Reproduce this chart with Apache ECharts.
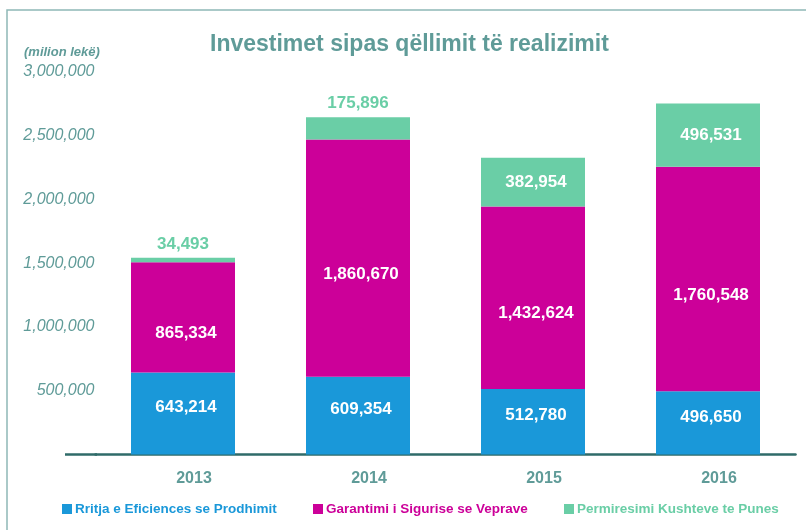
<!DOCTYPE html>
<html>
<head>
<meta charset="utf-8">
<script src="https://cdn.jsdelivr.net/npm/echarts@6/dist/echarts.min.js"></script>
<style>
  html, body { margin: 0; padding: 0; background: #fff; }
  #chart { width: 806px; height: 530px; }
</style>
</head>
<body>
<div id="chart"></div>
<script>
const years = ['2013', '2014', '2015', '2016'];
const seriesNames = [
  'Rritja e Eficiences se Prodhimit',
  'Garantimi i Sigurise se Veprave',
  'Permiresimi Kushteve te Punes'
];
const efficiency = [643214, 609354, 512780, 496650];
const safety = [865334, 1860670, 1432624, 1760548];
const conditions = [34493, 175896, 382954, 496531];

const colors = ['#1a98d9', '#cc0099', '#6acea6'];
const axisGray = '#5f9b98';
const fmt = v => v.toLocaleString('en-US');
const legendLeft = [62, 313, 564];

const chart = echarts.init(document.getElementById('chart'));

const labelBase = {
  show: true,
  color: '#fff',
  fontFamily: 'Liberation Sans, Arial, sans-serif',
  fontWeight: 'bold',
  fontSize: 17,
  formatter: p => fmt(p.value)
};

// small green segments get their label above the bar
const conditionsData = conditions.map(v => v < 200000
  ? { value: v, label: { position: 'top', color: colors[2], offset: [0, 0] } }
  : v);

const option = {
  animation: false,
  color: colors,
  title: [
    {
      text: 'Investimet sipas qëllimit të realizimit',
      left: 205,
      top: 28,
      textStyle: {
        color: axisGray,
        fontFamily: 'Liberation Sans, Arial, sans-serif',
        fontWeight: 'bold',
        fontSize: 23
      }
    },
    {
      text: '(milion lekë)',
      left: 19,
      top: 41,
      textStyle: {
        color: axisGray,
        fontFamily: 'Liberation Sans, Arial, sans-serif',
        fontWeight: 'bold',
        fontStyle: 'italic',
        fontSize: 13
      }
    }
  ],
  graphic: [
    {
      type: 'rect',
      shape: { x: 7, y: 10, width: 900, height: 700 },
      style: { fill: 'none', stroke: '#8fb8b7', lineWidth: 1.5 },
      silent: true
    },
    {
      type: 'line',
      shape: { x1: 65, y1: 454.5, x2: 97, y2: 454.5 },
      style: { stroke: '#2f6b69', lineWidth: 2.5 },
      silent: true
    }
  ],
  legend: seriesNames.map((n, i) => ({
    data: [n],
    left: legendLeft[i],
    top: 502,
    padding: 0,
    itemWidth: 10,
    itemHeight: 10,
    itemGap: 0,
    icon: 'rect',
    textStyle: {
      color: colors[i],
      fontFamily: 'Liberation Sans, Arial, sans-serif',
      fontWeight: 'bold',
      fontSize: 13.5,
      padding: [0, 0, 0, -2]
    }
  })),
  grid: {
    left: 95.5,
    right: 10.5,
    top: 72,
    bottom: 75.5
  },
  xAxis: {
    type: 'category',
    data: years,
    axisLine: { lineStyle: { color: '#2f6b69', width: 2.5 } },
    axisTick: { show: false },
    axisLabel: {
      color: axisGray,
      fontFamily: 'Liberation Sans, Arial, sans-serif',
      fontWeight: 'bold',
      fontSize: 16,
      margin: 16,
      padding: [0, 0, 0, 22]
    }
  },
  yAxis: {
    type: 'value',
    min: 0,
    max: 3000000,
    interval: 500000,
    splitLine: { show: false },
    axisLine: { show: false },
    axisTick: { show: false },
    axisLabel: {
      showMinLabel: false,
      color: axisGray,
      fontFamily: 'Liberation Sans, Arial, sans-serif',
      fontStyle: 'italic',
      fontSize: 16,
      margin: 1,
      formatter: v => fmt(v)
    }
  },
  series: [
    {
      name: seriesNames[0],
      type: 'bar',
      stack: 'total',
      data: efficiency,
      barWidth: 104,
      label: Object.assign({}, labelBase, { position: 'inside', offset: [3, -6] })
    },
    {
      name: seriesNames[1],
      type: 'bar',
      stack: 'total',
      data: safety,
      barWidth: 104,
      label: Object.assign({}, labelBase, { position: 'inside', offset: [3, 16] })
    },
    {
      name: seriesNames[2],
      type: 'bar',
      stack: 'total',
      data: conditionsData,
      barWidth: 104,
      label: Object.assign({}, labelBase, { position: 'inside', offset: [3, 0] })
    }
  ]
};

chart.setOption(option);
</script>
</body>
</html>
